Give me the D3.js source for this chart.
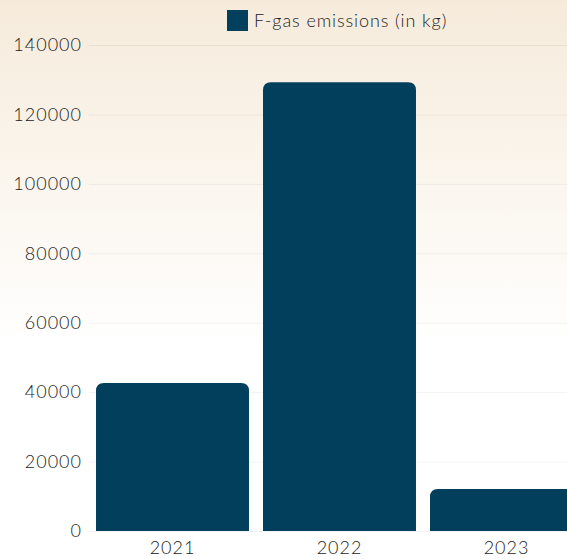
<!DOCTYPE html>
<html>
<head>
<meta charset="utf-8">
<script src="https://cdn.jsdelivr.net/npm/d3@7"></script>
<style>
  html, body { margin: 0; padding: 0; overflow: hidden; }
  body { width: 567px; height: 559px; }
  text { font-family: "Lato", "Open Sans", sans-serif; }
</style>
</head>
<body>
<svg id="chart" width="567" height="559"></svg>
<script>
const categories = ["2021", "2022", "2023"];
const seriesName = "F-gas emissions (in kg)";
const values = [42600, 129300, 12100];
const yTicks = [0, 20000, 40000, 60000, 80000, 100000, 120000, 140000];

const W = 567, H = 559;
const svg = d3.select("#chart");

const defs = svg.append("defs");
const grad = defs.append("linearGradient").attr("id", "bg").attr("x1", 0).attr("y1", 0).attr("x2", 0).attr("y2", 1);
grad.append("stop").attr("offset", "0%").attr("stop-color", "#f6ebdb");
grad.append("stop").attr("offset", "62%").attr("stop-color", "#ffffff");
grad.append("stop").attr("offset", "100%").attr("stop-color", "#ffffff");
svg.append("rect").attr("width", W).attr("height", H).attr("fill", "url(#bg)");

const x = d3.scaleBand().domain(categories).range([89, 590]).paddingInner(0.084).paddingOuter(0.042);
const y = d3.scaleLinear().domain([0, 140000]).range([531, 45]);

// gridlines
svg.append("g").selectAll("line").data(yTicks).join("line")
  .attr("x1", 89).attr("x2", W)
  .attr("y1", d => y(d) + 0.5).attr("y2", d => y(d) + 0.5)
  .attr("stroke", "#000").attr("stroke-opacity", 0.05).attr("stroke-width", 1);

// bars with rounded top
const r = 8;
function barPath(x0, w, yTop, yBase) {
  return `M${x0},${yBase}V${yTop + r}Q${x0},${yTop} ${x0 + r},${yTop}H${x0 + w - r}Q${x0 + w},${yTop} ${x0 + w},${yTop + r}V${yBase}Z`;
}
svg.append("g").selectAll("path").data(categories).join("path")
  .attr("d", (c, i) => barPath(x(c), x.bandwidth(), y(values[i]), y(0)))
  .attr("fill", "#023f5c");

const txtColor = "#1c1c1c";
// y axis
const yAxis = d3.axisLeft(y).tickValues(yTicks).tickSize(0).tickPadding(0).tickFormat(d3.format("d"));
const gy = svg.append("g").attr("transform", "translate(82,0)").call(yAxis);
gy.select(".domain").remove();
gy.selectAll("text").attr("font-size", 18).attr("fill", txtColor).attr("font-weight", 300)
  .attr("letter-spacing", 1).attr("font-family", "Lato, 'Open Sans', sans-serif");

// x axis
const xAxis = d3.axisBottom(x).tickSize(0).tickPadding(10);
const gx = svg.append("g").attr("transform", `translate(0,${y(0)})`).call(xAxis);
gx.select(".domain").remove();
gx.selectAll("text").attr("font-size", 18).attr("fill", txtColor).attr("font-weight", 300)
  .attr("letter-spacing", 1).attr("font-family", "Lato, 'Open Sans', sans-serif");

// legend
const lg = svg.append("g");
lg.append("rect").attr("x", 227).attr("y", 10).attr("width", 21).attr("height", 21).attr("fill", "#023f5c");
lg.append("text").attr("x", 254).attr("y", 21).attr("dy", "0.35em").attr("letter-spacing", 0.9)
  .attr("font-size", 18).attr("font-weight", 300).attr("fill", txtColor).text(seriesName);
</script>
</body>
</html>
